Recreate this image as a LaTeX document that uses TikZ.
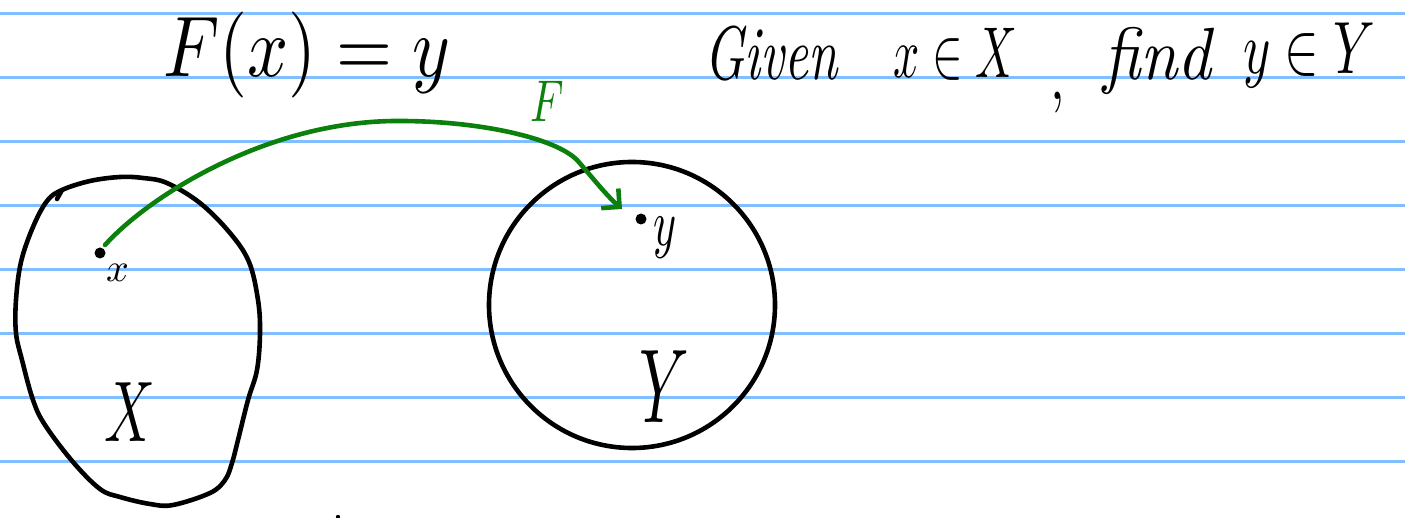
\documentclass[tikz,border=0pt]{standalone}
\usepackage{graphicx}
\usetikzlibrary{arrows.meta}
\definecolor{rulecol}{RGB}{128,190,255}
\definecolor{greenpen}{RGB}{12,128,12}
\begin{document}
\begin{tikzpicture}[x=1pt,y=-1pt,
  ruleline/.style={draw=rulecol,line width=2.4pt},
  inkline/.style={draw=black,line width=4.6pt,line cap=round,line join=round},
  greenline/.style={draw=greenpen,line width=4.6pt,line cap=round,line join=round},
  ink/.style={inner sep=0pt,outer sep=0pt,text=black},
  greenink/.style={inner sep=0pt,outer sep=0pt,text=greenpen},
  pt/.style={circle,fill=black,inner sep=0pt,minimum size=11pt}]
\useasboundingbox (0,0) rectangle (1405,518);
\fill[white] (0,0) rectangle (1405,518);
% ruled paper
\foreach \k in {0,...,7} {\draw[ruleline] (0,13.5+64*\k) -- (1405,13.5+64*\k);}
% headline
\node[ink,anchor=base west] (eq) at (163,77) {\scalebox{7.2}[8.6]{$F(x) = y$}};
\node[ink,anchor=base west] (given) at (704,80) {\scalebox{5.2}[7.6]{\itshape Given}};
\node[ink,anchor=base west] (xinX) at (893,78) {\scalebox{4.6}[7.2]{$x\in X$}};
\node[ink,anchor=base west] (comma) at (1050,100) {\scalebox{5.2}[7]{,}};
\node[ink,anchor=base west] (find) at (1103,80) {\scalebox{6.6}[7.4]{\itshape find}};
\node[ink,anchor=base west] (yinY) at (1243,74) {\scalebox{5.2}[7.4]{$y\in Y$}};
% set X (blob)
\draw[inkline] plot[smooth cycle,tension=0.6] coordinates {
 (62,190) (90,181) (120,177) (143,178) (167,183) (200,203) (230,233) (249,262)
 (258,300) (260,333) (257,370) (248,400) (238,440) (232,463) (225,480)
 (210,493) (173,505) (150,504) (120,497) (100,489) (73,462) (45,425)
 (33,400) (22,360) (16,333) (16,300) (21,262) (33,227) (47,201)};
\draw[inkline] (62,190) -- (57,199);
% set Y (circle)
\draw[inkline] (632,305) circle[radius=143];
% points
\node[pt] (dotx) at (100,253) {};
\node[pt] (doty) at (641,219) {};
\node[ink,anchor=base west] (labx) at (106,282) {\scalebox{4.0}{$x$}};
\node[ink,anchor=base west] (laby) at (653,246) {\scalebox{4.4}[6.6]{$y$}};
\node[ink] (labX) at (130,412) {\scalebox{5.6}[8.6]{$X$}};
\node[ink] (labY) at (664,387) {\scalebox{6.2}[10.5]{$Y$}};
% map F
\coordinate (fend) at (622,209);
\draw[greenline,-{Straight Barb[length=13pt,width=26pt,line width=4.6pt]}]
  (dotx.north east) ++(1,-4) .. controls (150,195) and (270,120) .. (400,121)
  .. controls (480,121) and (555,138) .. (577,160)
  .. controls (592,177) and (606,195) .. (fend);
\node[greenink,anchor=base west] (labF) at (530,122) {\scalebox{4.3}[5.9]{$F$}};
% stray mark
\fill[black] (338,517) circle[radius=2.2];
\end{tikzpicture}
\end{document}
